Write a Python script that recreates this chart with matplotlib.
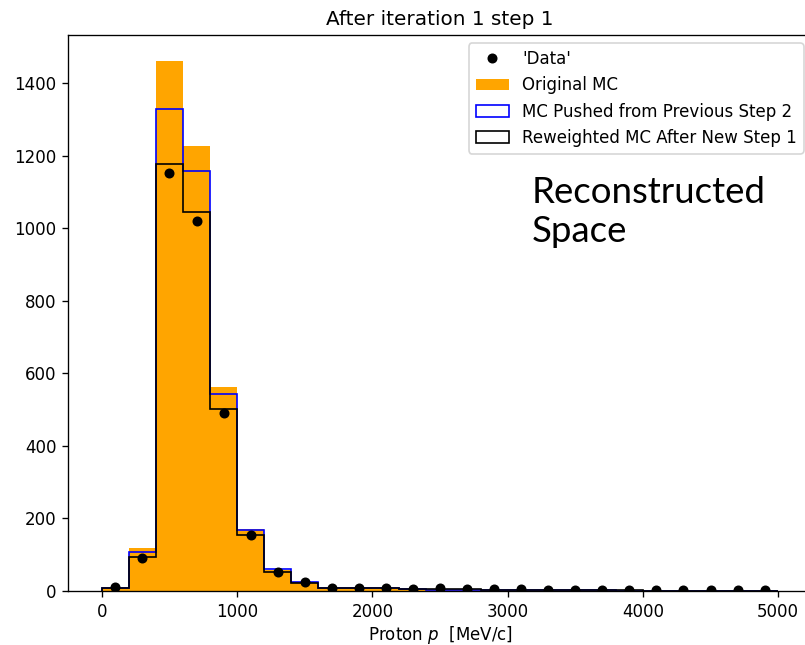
import numpy as np
import matplotlib.pyplot as plt

edges = np.arange(0, 5001, 200)
centers = 0.5 * (edges[:-1] + edges[1:])

orig_mc = [8, 118, 1460, 1227, 563, 170, 57, 26, 8, 7, 6, 5, 4, 4, 3, 3, 2, 2, 2, 1, 1, 1, 1, 1, 1]
pushed_mc = [8, 108, 1330, 1158, 543, 167, 60, 26, 8, 7, 7, 5, 4, 4, 3, 3, 2, 2, 2, 1, 1, 1, 1, 1, 1]
reweighted_mc = [9, 93, 1178, 1045, 502, 154, 53, 21, 9, 8, 8, 6, 5, 5, 4, 4, 3, 3, 2, 2, 1, 1, 1, 1, 1]
data = [10, 90, 1152, 1019, 492, 155, 53, 24, 9, 9, 9, 6, 8, 6, 5, 5, 4, 3, 3, 3, 3, 3, 3, 3, 3]

dpi = 120
fig = plt.figure(figsize=(805/dpi, 645/dpi), dpi=dpi)
ax = fig.add_axes([68/805, 54/645, (812-68)/805, (591-35)/645])

ax.plot(centers, data, 'ko', markersize=5, label="'Data'", zorder=5)
ax.hist(centers, bins=edges, weights=orig_mc, color='orange', label='Original MC')
ax.hist(centers, bins=edges, weights=pushed_mc, histtype='step', color='blue',
        label='MC Pushed from Previous Step 2')
ax.hist(centers, bins=edges, weights=reweighted_mc, histtype='step', color='black',
        label='Reweighted MC After New Step 1')

handles, labels = ax.get_legend_handles_labels()
ax.legend(handles, labels, loc='upper right')
ax.set_title('After iteration 1 step 1')
ax.set_xlabel('Proton $p$  [MeV/c]', labelpad=2)

fig.text(532/805, 1 - 212/645, 'Reconstructed\nSpace', fontsize=22, family='Lato',
         va='center', ha='left', linespacing=1.25)

fig.savefig('out.png', dpi=dpi)
